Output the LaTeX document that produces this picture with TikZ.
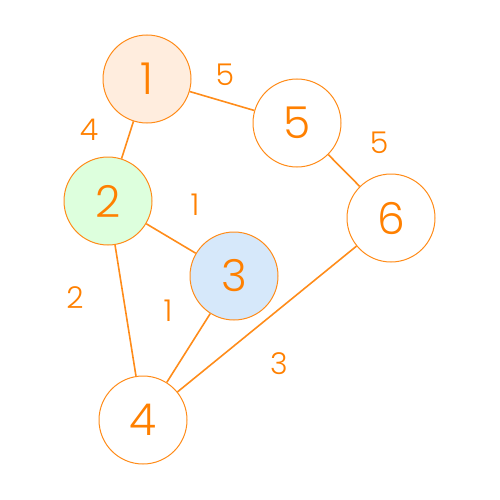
\documentclass[tikz,border=0pt]{standalone}
\usepackage{fontspec}
\IfFontExistsTF{Poppins Light}{\setmainfont{Poppins Light}}{\setmainfont{Poppins}}
\definecolor{oline}{RGB}{255,140,26}
\definecolor{otext}{RGB}{255,128,0}
\definecolor{f1}{RGB}{255,237,222}
\definecolor{f2}{RGB}{221,255,221}
\definecolor{f3}{RGB}{214,232,250}
\begin{document}
\begin{tikzpicture}[x=1pt,y=-1pt,
  vert/.style={circle,draw=oline,line width=1pt,minimum size=88pt,inner sep=0pt,fill=white,text=otext,font=\fontsize{44}{44}\selectfont},
  edge/.style={draw=oline,line width=1.6pt},
  elab/.style={text=otext,font=\fontsize{30}{30}\selectfont,inner sep=0pt}]
\useasboundingbox (0,0) rectangle (500,500);
\node[vert,fill=f1] (n1) at (147,79) {1};
\node[vert] (n5) at (297,123) {5};
\node[vert,fill=f2] (n2) at (108,201) {2};
\node[vert] (n6) at (391,218) {6};
\node[vert,fill=f3] (n3) at (234,276) {3};
\node[vert] (n4) at (143,420) {4};
\draw[edge] (n1) -- (n5);
\draw[edge] (n1) -- (n2);
\draw[edge] (n5) -- (n6);
\draw[edge] (n2) -- (n3);
\draw[edge] (n2) -- (n4);
\draw[edge] (n3) -- (n4);
\draw[edge] (n6) -- (n4);
\node[elab] (l15) at (225,75) {5};
\node[elab] (l12) at (89,130) {4};
\node[elab] (l56) at (379,143) {5};
\node[elab] (l23) at (195,205) {1};
\node[elab] (l24) at (75,298) {2};
\node[elab] (l34) at (168,311) {1};
\node[elab] (l64) at (279,364) {3};
\end{tikzpicture}
\end{document}
